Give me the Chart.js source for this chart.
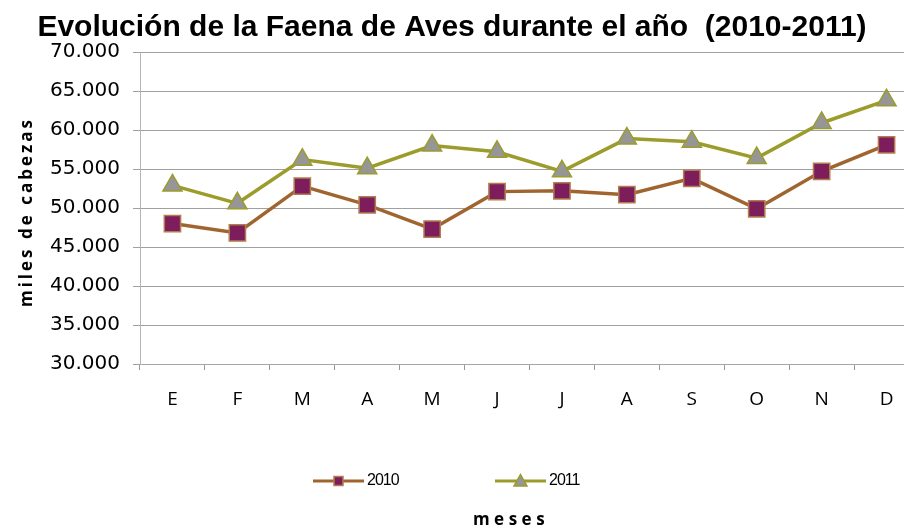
<!DOCTYPE html>
<html>
<head>
<meta charset="utf-8">
<script src="https://cdn.jsdelivr.net/npm/chart.js@4/dist/chart.umd.min.js"></script>
<style>
    html, body { margin: 0; padding: 0; background: #fff; }
    /* the original chart is cut off on the right, so the canvas is a bit wider than the page */
    #wrap { width: 904px; height: 527px; overflow: hidden; }
    canvas { display: block; }
</style>
</head>
<body>
<div id="wrap"><canvas id="faena" width="932" height="527"></canvas></div>
<script>
// Faena de aves por mes (miles de cabezas)
const meses = ['E', 'F', 'M', 'A', 'M', 'J', 'J', 'A', 'S', 'O', 'N', 'D'];
const faena2010 = [48000, 46800, 52800, 50400, 47300, 52100, 52200, 51700, 53800, 49900, 54700, 58100];
const faena2011 = [52900, 50600, 56200, 55100, 58000, 57200, 54700, 58900, 58500, 56400, 60900, 63800];
const yTicks = [30000, 35000, 40000, 45000, 50000, 55000, 60000, 65000, 70000];
const seriesNames = ['2010', '2011'];

// 70000 -> "70.000"
function formatMiles(v) {
    return String(v).replace(/\B(?=(\d{3})+(?!\d))/g, '.');
}

// axis titles, legend and title offset drawn by hand
const extras = {
    id: 'extras',
    afterLayout(chart) {
        // centre the title on the visible page, not on the wider canvas
        const t = chart.titleBlock;
        const shift = 452 - (t.left + t.right) / 2;
        t.left += shift;
        t.right += shift;
    },
    afterDraw(chart) {
        const ctx = chart.ctx;

        ctx.save();
        ctx.fillStyle = '#000';
        ctx.font = 'bold 17px "Open Sans"';
        ctx.letterSpacing = '3px';
        ctx.textAlign = 'center';
        ctx.translate(32, 212);
        ctx.rotate(-Math.PI / 2);
        ctx.fillText('miles de cabezas', 0, 0);
        ctx.restore();

        ctx.save();
        ctx.fillStyle = '#000';
        ctx.font = 'bold 17px "Open Sans"';
        ctx.letterSpacing = '4.5px';
        ctx.textAlign = 'center';
        ctx.fillText('meses', 511, 525);
        ctx.restore();

        // legend: short line with the marker in the middle, then the year
        const legendX = [313, 495];
        const legendY = 481;
        chart.data.datasets.forEach((ds, i) => {
            const x = legendX[i];
            const cx = x + 25.5;
            ctx.save();
            ctx.strokeStyle = ds.borderColor;
            ctx.lineWidth = 3;
            ctx.beginPath();
            ctx.moveTo(x, legendY);
            ctx.lineTo(x + 51, legendY);
            ctx.stroke();

            ctx.fillStyle = ds.pointBackgroundColor;
            ctx.strokeStyle = ds.pointBorderColor;
            ctx.lineWidth = 1.5;
            ctx.beginPath();
            if (ds.pointStyle === 'rect') {
                ctx.rect(cx - 4.5, legendY - 4.5, 9, 9);
            } else {
                ctx.moveTo(cx, legendY - 6.5);
                ctx.lineTo(cx + 6.5, legendY + 5);
                ctx.lineTo(cx - 6.5, legendY + 5);
                ctx.closePath();
            }
            ctx.fill();
            ctx.stroke();

            ctx.fillStyle = '#000';
            ctx.font = '16px "Liberation Sans"';
            ctx.letterSpacing = '-1px';
            ctx.textBaseline = 'middle';
            ctx.fillText(ds.label, x + 54, legendY);
            ctx.restore();
        });
    }
};

new Chart(document.getElementById('faena'), {
    type: 'line',
    data: {
        labels: meses,
        datasets: [{
            label: seriesNames[0],
            data: faena2010,
            borderColor: '#A0652F',
            borderWidth: 3.5,
            pointStyle: 'rect',
            pointRadius: 11.5,
            pointBackgroundColor: '#7E1D5C',
            pointBorderColor: '#B27D4E',
            pointBorderWidth: 1.5,
            tension: 0
        }, {
            label: seriesNames[1],
            data: faena2011,
            borderColor: '#9C9C2C',
            borderWidth: 3.5,
            pointStyle: 'triangle',
            pointRadius: 11,
            pointBackgroundColor: '#969696',
            pointBorderColor: '#9C9C2C',
            pointBorderWidth: 1.5,
            tension: 0
        }]
    },
    options: {
        responsive: false,
        animation: false,
        layout: { padding: { left: 46, right: 6, top: 0, bottom: 117 } },
        plugins: {
            legend: { display: false },
            tooltip: { enabled: false },
            title: {
                display: true,
                text: 'Evolución de la Faena de Aves durante el año  (2010-2011)',
                color: '#000',
                font: { family: '"Liberation Sans", Arial', size: 30, weight: 'bold' },
                padding: { top: 10, bottom: 6 }
            }
        },
        scales: {
            x: {
                offset: true,
                grid: { offset: true, drawOnChartArea: false, tickLength: 6, color: '#999999' },
                border: { color: '#a6a6a6' },
                ticks: {
                    color: '#000',
                    font: { family: '"Open Sans"', size: 19 },
                    padding: 18
                },
                afterFit: function(scale) { scale.height = 46; }
            },
            y: {
                min: 30000,
                max: 70000,
                afterBuildTicks: function(scale) {
                    scale.ticks = yTicks.map(v => ({ value: v }));
                },
                grid: { color: '#a0a0a0', tickLength: 7 },
                border: { color: '#b4b4b4' },
                ticks: {
                    color: '#000',
                    font: { family: '"DejaVu Sans"', size: 20 },
                    padding: 13,
                    callback: v => formatMiles(v)
                },
                afterFit: function(scale) { scale.width = 94; }
            }
        }
    },
    plugins: [extras]
});
</script>
</body>
</html>
